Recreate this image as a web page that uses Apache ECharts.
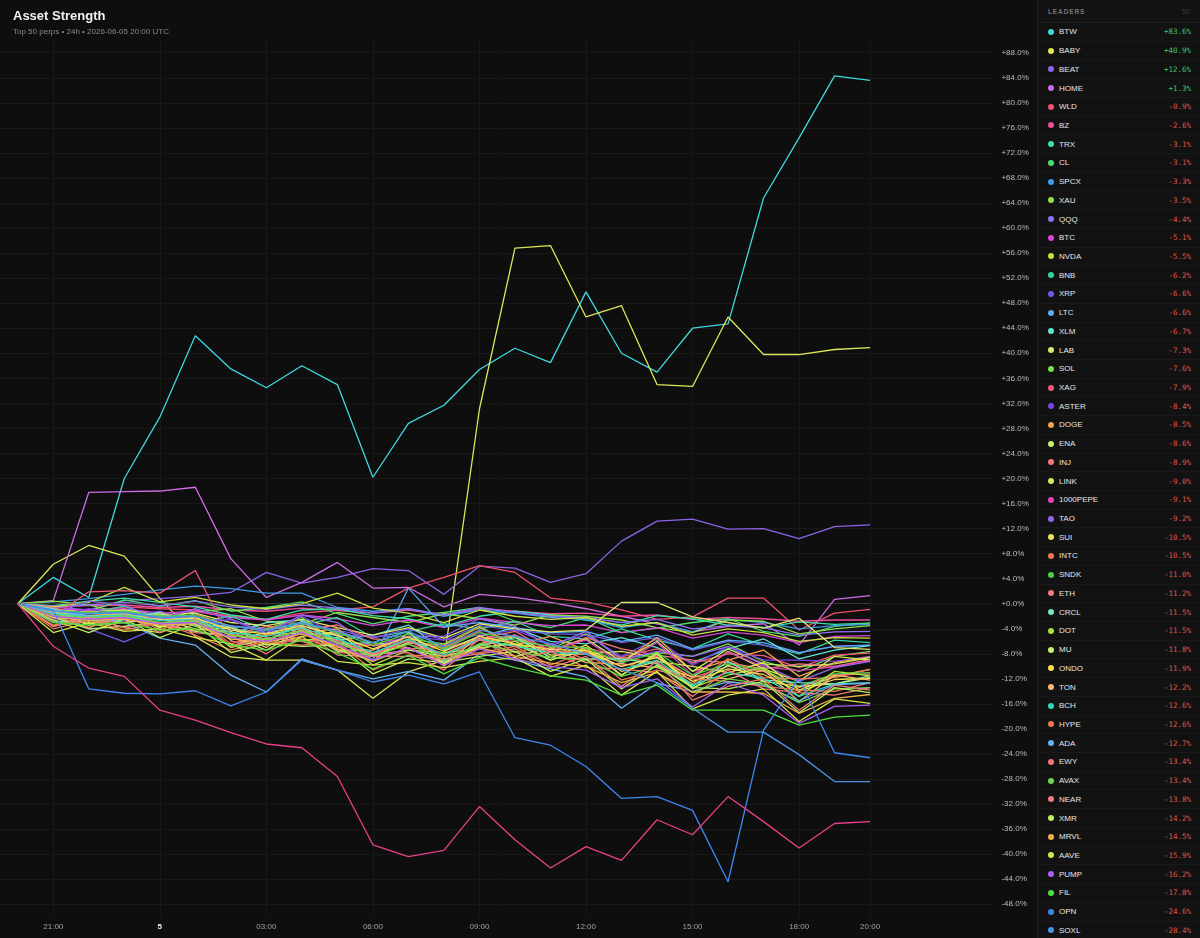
<!DOCTYPE html>
<html><head><meta charset="utf-8">
<script src="https://cdn.jsdelivr.net/npm/echarts@6/dist/echarts.min.js"></script>
<style>
html,body{margin:0;padding:0;background:#0e0e0e;width:1200px;height:938px;overflow:hidden;}
#chart{position:absolute;left:0;top:0;width:1200px;height:938px;}
#panel{position:absolute;left:1037px;top:0;width:163px;height:938px;background:#121212;border-left:1px solid #1f1f1f;box-sizing:border-box;overflow:hidden;font-family:"Liberation Sans",Arial,sans-serif;}
#phead{height:23px;box-sizing:border-box;border-bottom:1px solid #1f1f1f;display:flex;align-items:center;padding:0 10px 0 10px;}
#phead .t{font-size:6.5px;font-weight:bold;letter-spacing:0.9px;color:#777;}
#phead .n{margin-left:auto;font-size:7.5px;color:#3c3c3c;}
.row{height:18.73px;box-sizing:border-box;border-bottom:1px solid #191919;display:flex;align-items:center;}
.dot{width:6px;height:6px;border-radius:50%;margin-left:10px;flex:none;}
.nm{margin-left:5px;font-size:8px;color:#e6e6e6;}
.vl{margin-left:auto;margin-right:9px;font-family:"DejaVu Sans Mono",monospace;font-size:7.5px;}
</style></head>
<body>
<div id="chart"></div>
<div id="panel"><div id="phead"><span class="t">LEADERS</span><span class="n" id="pcount"></span></div><div id="rows"></div></div>
<script>
const titleText = 'Asset Strength';
const subtitleText = 'Top 50 perps \u2022 24h \u2022 2026-06-05 20:00 UTC';
const times = ['20:00','21:00','22:00','23:00','00:00','01:00','02:00','03:00','04:00','05:00','06:00','07:00','08:00','09:00','10:00','11:00','12:00','13:00','14:00','15:00','16:00','17:00','18:00','19:00','20:00'];
const dayLabel = '5';
const xTickIndex = [1,4,7,10,13,16,19,22,24];
const yTicks = [-48,-44,-40,-36,-32,-28,-24,-20,-16,-12,-8,-4,0,4,8,12,16,20,24,28,32,36,40,44,48,52,56,60,64,68,72,76,80,84,88];

const BTW = [0,4.2,1.0,20.0,29.8,42.8,37.5,34.5,38.0,35.0,20.2,28.8,31.7,37.4,40.8,38.5,49.8,40.0,37.0,44.0,44.7,64.8,74.4,84.3,83.6];
const BABY = [0,6.3,9.3,7.6,0.9,-5.3,-8.5,-9.0,-9.0,-10.6,-15.1,-10.9,-9.0,31.1,56.8,57.2,45.8,47.6,35.0,34.7,45.8,39.8,39.8,40.6,40.9];
const BEAT = [0,-0.5,-1.0,0.5,0.8,1.2,1.8,5.0,3.3,4.2,5.6,5.3,1.5,6.0,5.7,3.4,4.8,10.0,13.2,13.5,11.9,12.0,10.4,12.3,12.6];
const HOME = [0,0.5,17.8,17.9,18.0,18.6,7.2,1.0,3.4,6.6,2.5,2.6,-0.5,1.5,1.0,0.2,-0.8,-2.0,-3.2,-4.5,-3.6,-3.2,-6.6,0.7,1.3];
const WLD = [0,-0.8,-1.2,-0.5,-0.8,-1.0,-2.0,-2.5,-1.5,-1.0,-0.5,2.5,4.2,6.1,5.0,0.9,0.3,-1.0,-2.5,-2.1,0.9,0.9,-4.2,-1.5,-0.9];
const BZ = [0,-0.5,-0.3,-0.2,-0.6,-0.4,-1.0,-1.2,-0.7,-1.1,-1.5,-1.0,-1.8,-0.8,-1.2,-1.6,-1.5,-2.0,-1.8,-2.5,-2.2,-2.4,-2.8,-2.6,-2.6];
const TRX = [0,-0.3,0.4,0.9,0.2,-0.5,-1.8,-2.5,-1.0,-0.8,-1.9,-2.4,-3.6,-2.0,-1.2,-1.8,-2.6,-3.4,-1.9,-2.4,-3.4,-3.8,-2.9,-3.3,-3.1];
const CL = [0,-1.8,-1.2,0.6,-0.4,0.5,-1.2,-0.6,0.3,-1.6,-3.2,-2.0,-1.4,-0.6,-2.8,-3.8,-2.2,-4.6,-3.9,-3.0,-2.4,-4.4,-5.2,-3.6,-3.1];
const SPCX = [0,0.3,0.8,1.5,2.2,2.8,2.4,1.7,1.7,-0.6,-1.2,-0.8,-2.0,-1.0,-1.5,-2.2,-2.5,-3.8,-3.0,-4.5,-2.5,-3.0,-4.0,-3.5,-3.3];
const XAU = [0,0.4,-0.2,-1.6,-2.4,-1.3,-0.8,-2.8,-3.2,-1.4,-2.2,-3.0,-1.6,-2.4,-3.4,-1.8,-2.0,-2.6,-3.8,-4.6,-2.6,-2.8,-4.8,-4.0,-3.5];
const QQQ = [0,-0.4,-0.2,0.2,-0.3,0.4,-0.5,-0.9,-0.2,-0.7,-1.5,-0.8,-1.8,-0.6,-1.4,-2.0,-2.2,-3.0,-2.5,-4.0,-3.5,-3.8,-5.0,-4.5,-4.4];
const BTC = [0,-0.9,-1.0,-0.8,-1.5,-1.2,-2.2,-2.6,-1.8,-2.4,-3.5,-2.6,-3.8,-2.3,-3.0,-3.5,-3.4,-4.6,-3.8,-5.5,-4.5,-5.0,-6.2,-5.2,-5.1];
const NVDA = [0,-0.5,0.2,2.6,0.3,1.0,-0.2,-0.8,0.0,1.7,-0.7,-1.5,-3.0,-1.0,-2.0,-2.5,-2.2,-3.6,-3.0,-5.0,-4.0,-4.6,-6.0,-5.4,-5.5];
const BNB = [0,-2.2,-1.5,-0.4,-2.6,-3.0,-2.0,-4.2,-3.4,-2.2,-5.4,-4.4,-3.2,-4.0,-2.8,-5.2,-5.6,-4.0,-5.8,-7.2,-4.8,-6.6,-8.0,-5.8,-6.2];
const XRP = [0,-1.0,-4.0,-6.1,-3.7,-2.5,-3.5,-4.0,-3.0,-4.2,-5.5,-4.0,-5.8,-3.5,-4.2,-4.8,-4.9,-6.2,-5.4,-7.4,-6.0,-6.6,-7.8,-6.8,-6.6];
const LTC = [0,-1.4,-1.6,-1.5,-2.4,-2.2,-4.0,-4.6,-3.5,-5.2,-9.0,2.5,-3.7,-3.0,-3.8,-4.6,-4.4,-6.0,-5.0,-7.2,-5.8,-6.2,-7.8,-6.8,-6.6];
const XLM = [0,-3.0,-2.4,-1.2,-1.6,-3.4,-4.8,-3.0,-2.6,-5.8,-5.0,-3.4,-7.4,-5.2,-3.8,-6.0,-6.4,-5.4,-7.0,-9.4,-7.2,-5.6,-8.8,-7.4,-6.7];
const LAB = [0,-1.0,-1.3,-1.0,-1.8,-1.5,-3.0,-3.5,-2.5,-3.8,-5.0,-3.8,-5.5,-3.2,-4.0,-4.5,-4.2,0.2,0.2,-2.1,-3.0,-3.9,-2.3,-7.0,-7.3];
const SOL = [0,-1.0,-3.2,-2.6,-1.8,-3.6,-5.4,-4.0,-2.2,-6.2,-8.2,-5.6,-6.4,-3.6,-6.6,-7.2,-4.8,-8.8,-7.8,-8.4,-6.4,-9.2,-10.8,-8.4,-7.6];
const XAG = [0,-2.0,1.9,2.1,1.7,5.3,-6.0,-6.5,-5.8,-6.0,-8.0,-6.5,-8.0,-5.5,-6.0,-6.8,-7.0,-8.5,-7.2,-9.5,-8.0,-8.3,-10.2,-8.2,-7.9];
const ASTER = [0,-2.0,-0.8,-2.0,-1.2,-2.6,-2.6,-4.8,-2.0,-5.0,-5.2,-5.2,-5.8,-5.0,-4.2,-6.4,-5.0,-8.4,-5.6,-9.8,-6.8,-9.0,-9.0,-9.2,-8.4];
const DOGE = [0,-2.8,-1.2,-2.4,-3.6,-1.6,-3.6,-6.0,-4.6,-4.0,-8.4,-6.2,-6.6,-3.8,-6.6,-5.2,-7.4,-9.4,-5.4,-10.8,-9.0,-7.4,-11.6,-9.4,-8.5];
const ENA = [0,-1.4,-3.2,-1.6,-3.8,-2.0,-5.8,-4.6,-4.8,-4.8,-8.4,-6.2,-7.0,-5.8,-5.0,-7.4,-5.6,-9.2,-6.0,-10.8,-7.2,-9.6,-10.0,-9.6,-8.6];
const INJ = [0,-0.6,-2.4,-3.0,-1.4,-2.6,-5.0,-3.6,-4.2,-3.4,-5.6,-6.0,-8.0,-5.6,-4.4,-7.6,-5.4,-7.2,-8.2,-9.0,-9.4,-10.4,-9.6,-10.0,-8.9];
const LINK = [0,-3.6,-2.2,-3.8,-4.6,-2.4,-6.8,-5.0,-3.8,-7.2,-9.2,-4.6,-9.6,-6.4,-5.0,-8.2,-8.0,-7.6,-8.6,-11.8,-7.6,-10.4,-12.4,-8.4,-9.0];
const PEPE1000 = [0,-2.5,-1.4,-2.7,-2.0,-3.3,-3.8,-6.0,-3.0,-6.2,-6.6,-6.0,-7.0,-5.6,-5.0,-7.4,-5.8,-9.6,-6.2,-11.4,-7.7,-10.1,-10.7,-10.1,-9.1];
const TAO = [0,-1.6,0.4,-0.2,-2.6,-0.8,-2.4,-4.6,-1.8,-3.0,-6.8,-5.2,-5.2,-2.4,-3.6,-6.8,-4.4,-9.0,-7.6,-8.4,-6.8,-9.8,-12.4,-10.2,-9.2];
const SUI = [0,-1.2,-2.8,-1.4,-3.6,-4.2,-3.8,-6.6,-5.2,-4.4,-6.2,-7.0,-9.4,-6.8,-5.2,-8.6,-6.6,-10.8,-9.2,-10.0,-11.0,-9.4,-13.8,-11.6,-10.5];
const INTC = [0,-3.4,-2.0,-1.4,-4.2,-2.2,-6.4,-4.8,-5.6,-7.0,-6.6,-7.2,-7.0,-4.4,-7.8,-6.4,-9.0,-8.6,-9.4,-12.8,-8.8,-11.8,-12.0,-11.8,-10.5];
const SNDK = [0,-1.1,-1.4,-1.2,-2.0,-1.8,-3.6,-4.2,-3.0,-4.6,-6.6,-4.8,-7.2,-4.6,-5.8,-6.8,-7.0,-9.4,-7.8,-11.4,-9.6,-10.6,-13.2,-11.2,-11.0];
const ETH = [0,-2.0,-2.4,-2.1,-3.1,-2.8,-5.0,-5.6,-4.2,-5.9,-8.0,-5.9,-8.5,-5.8,-6.8,-7.6,-7.8,-10.0,-8.4,-11.8,-10.0,-10.8,-13.4,-11.4,-11.2];
const CRCL = [0,-0.8,-2.6,-2.4,-1.4,-3.4,-3.6,-6.2,-2.8,-6.4,-6.2,-4.4,-9.2,-6.6,-5.4,-8.6,-8.8,-8.8,-9.6,-13.2,-9.2,-12.2,-12.6,-12.8,-11.5];
const DOT = [0,-2.0,-3.8,-1.8,-4.6,-2.6,-7.0,-5.6,-5.8,-5.4,-9.8,-7.4,-7.8,-7.2,-6.0,-9.0,-7.0,-11.4,-7.8,-13.4,-11.4,-10.2,-14.8,-10.8,-11.5];
const MU = [0,-2.2,-4.0,-3.6,-3.0,-4.4,-5.2,-7.4,-4.2,-7.6,-8.2,-7.4,-8.4,-7.0,-6.4,-9.0,-7.4,-11.4,-8.0,-13.6,-9.8,-12.4,-13.2,-12.8,-11.8];
const ONDO = [0,-1.4,-1.9,-1.7,-2.6,-2.3,-4.2,-4.8,-3.5,-5.1,-7.2,-5.3,-7.6,-5.2,-6.4,-7.3,-7.5,-10.0,-8.6,-12.4,-10.4,-11.3,-14.0,-12.1,-11.9];
const TON = [0,-1.4,-3.4,-3.0,-2.4,-4.0,-4.4,-7.0,-3.6,-7.4,-7.4,-5.2,-10.0,-5.0,-8.4,-7.0,-9.4,-9.6,-10.2,-11.6,-12.0,-10.6,-15.6,-11.4,-12.2];
const BCH = [0,-1.6,-2.0,-1.8,-2.7,-2.5,-4.6,-5.2,-3.9,-5.6,-7.8,-5.7,-8.2,-5.6,-6.8,-7.8,-8.0,-10.5,-9.0,-13.0,-11.0,-11.9,-14.8,-12.8,-12.6];
const HYPE = [0,-4.0,-2.6,-4.2,-3.0,-5.0,-7.4,-6.0,-6.6,-6.2,-10.6,-8.2,-8.4,-7.8,-6.8,-9.8,-7.6,-12.2,-10.6,-12.0,-12.4,-13.2,-13.8,-14.0,-12.6];
const ADA = [0,-1.0,-2.0,-3.0,-5.5,-6.6,-11.4,-14.1,-8.8,-10.6,-12.0,-10.8,-12.2,-8.0,-9.0,-10.4,-11.7,-16.7,-12.7,-14.0,-12.5,-13.0,-15.5,-12.9,-12.7];
const EWY = [0,-1.8,-3.8,-1.8,-4.6,-2.4,-6.8,-5.4,-6.0,-7.8,-8.0,-7.8,-10.6,-5.6,-9.0,-7.6,-10.2,-10.4,-11.0,-14.8,-10.6,-13.6,-14.2,-14.6,-13.4];
const AVAX = [0,-1.9,-2.2,-2.0,-3.0,-2.8,-5.0,-5.6,-4.3,-6.2,-8.5,-6.4,-9.0,-6.4,-7.6,-8.6,-9.0,-11.6,-10.0,-14.2,-12.0,-12.8,-15.8,-13.6,-13.4];
const NEAR = [0,-3.6,-2.2,-3.8,-3.0,-4.6,-5.2,-8.0,-4.4,-8.2,-8.4,-8.4,-8.8,-8.0,-7.2,-10.2,-8.4,-13.2,-9.2,-15.4,-13.2,-12.0,-17.0,-13.0,-13.8];
const XMR = [0,-2.6,-4.6,-2.4,-5.4,-3.2,-7.8,-6.4,-6.8,-6.6,-11.2,-8.8,-9.4,-8.4,-7.6,-10.8,-8.8,-13.6,-9.8,-13.4,-13.6,-12.4,-17.4,-13.4,-14.2];
const MRVL = [0,-2.2,-2.6,-2.4,-3.4,-3.2,-5.6,-6.2,-4.8,-6.8,-9.2,-7.0,-9.8,-7.0,-8.4,-9.5,-10.0,-12.6,-11.0,-14.1,-14.1,-14.3,-17.5,-15.1,-14.5];
const AAVE = [0,-4.6,-3.0,-4.4,-4.0,-5.4,-6.4,-9.0,-5.2,-9.2,-9.8,-9.4,-10.2,-9.2,-8.6,-11.6,-9.8,-14.6,-10.8,-16.8,-14.6,-13.6,-18.8,-15.2,-15.9];
const PUMP = [0,-2.0,-2.5,-2.2,-3.2,-3.0,-5.4,-6.0,-4.6,-6.6,-9.0,-7.0,-9.8,-7.2,-8.8,-10.0,-10.6,-13.4,-12.0,-16.5,-12.7,-14.6,-19.1,-16.4,-16.2];
const FIL = [0,-3.0,-3.4,-3.0,-4.2,-4.0,-6.6,-7.4,-5.8,-7.9,-10.4,-8.2,-11.2,-8.6,-10.2,-11.5,-12.2,-14.6,-13.0,-17.0,-17.0,-17.0,-19.4,-18.1,-17.8];
const OPN = [0,-1.0,-13.6,-14.3,-14.4,-13.9,-16.3,-14.1,-9.0,-10.6,-12.5,-11.4,-12.8,-10.9,-21.4,-22.6,-26.0,-31.1,-30.8,-33.0,-44.4,-20.2,-11.9,-23.8,-24.6];
const SOXL = [0,-1.2,-1.6,-1.4,-2.2,-2.0,-3.6,-4.2,-3.0,-4.4,-6.2,-4.4,-6.8,-4.2,-5.2,-6.4,-8.0,-10.5,-12.6,-16.7,-20.5,-20.5,-24.1,-28.4,-28.4];
const MSTR = [0,-6.8,-10.3,-11.6,-17.0,-18.6,-20.6,-22.4,-23.0,-27.6,-38.5,-40.4,-39.4,-32.4,-37.7,-42.2,-38.8,-41.0,-34.5,-36.9,-30.8,-34.8,-39.0,-35.1,-34.8];

const tickers = ['BTW','BABY','BEAT','HOME','WLD','BZ','TRX','CL','SPCX','XAU','QQQ','BTC','NVDA','BNB','XRP','LTC','XLM','LAB','SOL','XAG','ASTER','DOGE','ENA','INJ','LINK','1000PEPE','TAO','SUI','INTC','SNDK','ETH','CRCL','DOT','MU','ONDO','TON','BCH','HYPE','ADA','EWY','AVAX','NEAR','XMR','MRVL','AAVE','PUMP','FIL','OPN','SOXL','MSTR'];
const seriesValues = [BTW,BABY,BEAT,HOME,WLD,BZ,TRX,CL,SPCX,XAU,QQQ,BTC,NVDA,BNB,XRP,LTC,XLM,LAB,SOL,XAG,ASTER,DOGE,ENA,INJ,LINK,PEPE1000,TAO,SUI,INTC,SNDK,ETH,CRCL,DOT,MU,ONDO,TON,BCH,HYPE,ADA,EWY,AVAX,NEAR,XMR,MRVL,AAVE,PUMP,FIL,OPN,SOXL,MSTR];
const colors = ['#3fd8e0','#dde65a','#8e63e8','#cf6de6','#f0506a','#ec4f9c','#3ee0b0','#4fdc72','#3d9be9','#8ee04a','#8d72f0','#d846d8','#c9e040','#33d69a','#6c5ce7','#5aaaf5','#5fe3d5','#e0e870','#78de4a','#f2587a','#7b45e6','#f5a04a','#c2ee6a','#f57777','#d9e85a','#e044b8','#9466f0','#ede35a','#f5784e','#4ccd4c','#f47a7a','#74e6b8','#a6e43c','#c4ef72','#f6e04c','#f8b870','#2fd6c0','#f07a4c','#64b2f2','#f27676','#6cd84c','#f27a7a','#bcee5c','#eeb04c','#d6e44a','#a95ff2','#4ede3e','#3f86f0','#4a92e6','#e8408a'];

function fmtPct(v){ return (v >= 0 ? '+' : '') + v.toFixed(1) + '%'; }

const series = seriesValues.map((vals, k) => ({
  name: tickers[k], type: 'line', data: vals.map((v, j) => [j, v]),
  showSymbol: false, symbol: 'none', silent: true,
  lineStyle: { width: 1.3, color: colors[k] }, itemStyle: { color: colors[k] },
  emphasis: { disabled: true }, z: 3
}));
series.unshift({
  name: 'zero', type: 'line', data: [], silent: true, z: 2,
  markLine: { silent: true, symbol: 'none', label: { show: false },
    lineStyle: { type: 'dotted', color: '#555', width: 1 },
    data: [[{ coord: [0, 0] }, { coord: [times.length - 1, 0] }]] }
});

const chart = echarts.init(document.getElementById('chart'), null, { renderer: 'canvas' });
chart.setOption({
  backgroundColor: '#0e0e0e',
  animation: false,
  title: { text: titleText, subtext: subtitleText, left: 13, top: 10, itemGap: 5, padding: 0,
    textStyle: { color: '#f2f2f2', fontSize: 13, fontWeight: 'bold', fontFamily: 'Liberation Sans' },
    subtextStyle: { color: '#8a8a8a', fontSize: 8, fontFamily: 'Liberation Sans' } },
  grid: { left: 0, right: 205.6, top: 40.2, bottom: 21.2, containLabel: false, outerBoundsMode: 'none' },
  xAxis: { type: 'value', min: -0.5, max: 27.5,
    axisLine: { show: false }, axisTick: { show: false, customValues: xTickIndex },
    axisLabel: { customValues: xTickIndex, color: '#a0a0a0', fontSize: 8, margin: 6, fontFamily: 'Liberation Sans',
      formatter: (v) => { const t = times[Math.round(v)]; return t === '00:00' ? '{day|' + dayLabel + '}' : t; },
      rich: { day: { fontWeight: 'bold', color: '#eeeeee', fontSize: 8, fontFamily: 'Liberation Sans' } } },
    splitLine: { show: true, lineStyle: { color: '#181818', width: 1 } } },
  yAxis: { type: 'value', position: 'right', min: -50, max: 90,
    axisLine: { show: false }, axisTick: { show: false, customValues: yTicks },
    axisLabel: { customValues: yTicks, color: '#bdbdbd', fontSize: 8, margin: 7, fontFamily: 'Liberation Sans', formatter: fmtPct },
    splitLine: { show: true, lineStyle: { color: '#181818', width: 1 } } },
  series: series
});

document.getElementById('pcount').textContent = String(tickers.length);
const rows = document.getElementById('rows');
tickers.forEach((t, k) => {
  const last = seriesValues[k][seriesValues[k].length - 1];
  const r = document.createElement('div'); r.className = 'row';
  r.innerHTML = '<span class="dot" style="background:' + colors[k] + '"></span><span class="nm">' + t +
    '</span><span class="vl" style="color:' + (last >= 0 ? '#3ec46d' : '#e0524a') + '">' + fmtPct(last) + '</span>';
  rows.appendChild(r);
});
</script>
</body></html>
